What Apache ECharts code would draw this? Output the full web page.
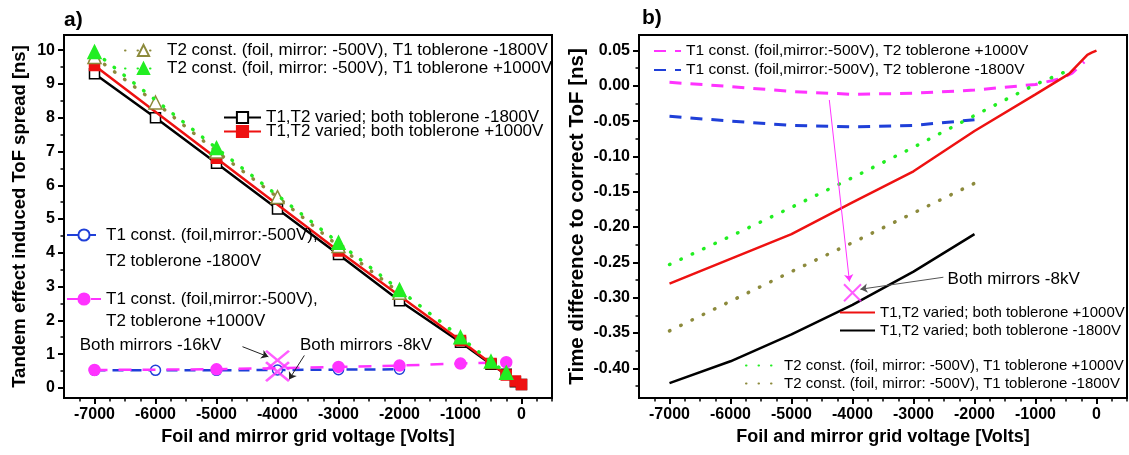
<!DOCTYPE html>
<html>
<head>
<meta charset="utf-8">
<script src="https://cdn.jsdelivr.net/npm/echarts@6/dist/echarts.min.js"></script>
<style>
  html, body { margin: 0; padding: 0; background: #fff; }
  #chart { width: 1129px; height: 455px; }
</style>
</head>
<body>
<div id="chart"></div>
<script>
// ---- tick values (both panels share the voltage axis) ----
var xTicks = [-7000, -6000, -5000, -4000, -3000, -2000, -1000, 0];
var xMinor = [-7250, -6750, -6500, -6250, -5750, -5500, -5250, -4750, -4500, -4250,
              -3750, -3500, -3250, -2750, -2500, -2250, -1750, -1500, -1250,
              -750, -500, -250, 250, 500];
var yTicksA = [0, 1, 2, 3, 4, 5, 6, 7, 8, 9, 10];
var yMinorA = [0.5, 1.5, 2.5, 3.5, 4.5, 5.5, 6.5, 7.5, 8.5, 9.5];
var yTicksB = [0.05, 0, -0.05, -0.1, -0.15, -0.2, -0.25, -0.3, -0.35, -0.4];
var yMinorB = [0.025, -0.025, -0.075, -0.125, -0.175, -0.225, -0.275, -0.325, -0.375, -0.425];

// ---- panel a) tandem effect induced ToF spread [ns] ----
var blackA = [[-7000, 9.3], [-6000, 8.0], [-5000, 6.65], [-4000, 5.3], [-3000, 3.95], [-2000, 2.58],
              [-1000, 1.35], [-500, 0.7], [-250, 0.4], [-100, 0.18], [0, 0.1]];
var redA = [[-7000, 9.55], [-5000, 6.8], [-3000, 4.05], [-1000, 1.4], [-500, 0.72],
            [-250, 0.38], [-100, 0.2], [0, 0.1]];
var oliveA = [[-7000, 9.8], [-6000, 8.45], [-5000, 7.0], [-4000, 5.65], [-3000, 4.2], [-2000, 2.82]];
var greenA = [[-7000, 9.95], [-5000, 7.1], [-3000, 4.3], [-2000, 2.9], [-1000, 1.5], [-500, 0.78], [-250, 0.45]];
var blueA = [[-7000, 0.52], [-6000, 0.52], [-5000, 0.52], [-4000, 0.53], [-3000, 0.54], [-2000, 0.55]];
var magentaA = [[-7000, 0.53], [-5000, 0.55], [-3000, 0.62], [-2000, 0.66], [-1000, 0.72], [-250, 0.76]];
var crossA = [[-4000, 0.82], [-4000, 0.48]];

// ---- panel b) time difference to correct ToF [ns] ----
var magentaB = [[-7000, 0.005], [-6000, -0.001], [-5000, -0.008], [-4000, -0.012], [-3000, -0.0105],
                [-2000, -0.006], [-1000, 0.002], [-600, 0.01], [-400, 0.018], [-200, 0.034]];
var blueB = [[-7000, -0.043], [-6000, -0.05], [-5000, -0.056], [-4000, -0.058], [-3000, -0.056], [-2000, -0.048]];
var redB = [[-7000, -0.28], [-6000, -0.245], [-5000, -0.21], [-4000, -0.165], [-3000, -0.121],
            [-2000, -0.064], [-1000, -0.012], [-450, 0.017], [-150, 0.044], [-80, 0.047], [0, 0.05]];
var blackB = [[-7000, -0.421], [-6000, -0.39], [-5000, -0.352], [-4000, -0.31], [-3000, -0.263], [-2000, -0.21]];
var greenB = [[-7000, -0.253], [-6000, -0.213], [-5000, -0.172], [-4000, -0.13], [-3000, -0.087],
              [-2000, -0.042], [-1000, 0.002], [-400, 0.024]];
var oliveB = [[-7000, -0.347], [-6000, -0.305], [-5000, -0.263], [-4000, -0.222], [-3000, -0.18], [-2000, -0.138]];
var crossB = [[-4000, -0.293]];

var FONT = 'Liberation Sans, Arial, sans-serif';
var MAGENTA = '#ff33ff', BLUE = '#1f3fd8', GREEN = '#22ee22', OLIVE = '#8c8a3c', RED = '#ee1111';
var CROSS = 'path://M0,0L10,10M10,0L0,10';
var DOTS = [0.5, 12];

var chart = echarts.init(document.getElementById('chart'), null, { renderer: 'canvas' });

function mainX(grid) {
    return {
        type: 'value', gridIndex: grid, position: 'bottom', min: -7500, max: 500,
        name: 'Foil and mirror grid voltage [Volts]', nameLocation: 'middle', nameGap: 29,
        nameTextStyle: { fontSize: 18, fontWeight: 'bold', color: '#000', fontFamily: FONT },
        axisLine: { show: true, onZero: false, lineStyle: { color: '#000', width: 2 } },
        axisTick: { show: true, length: 6, customValues: xTicks, lineStyle: { color: '#000', width: 2 } },
        axisLabel: { customValues: xTicks, margin: 9, fontSize: 16, fontWeight: 'bold', color: '#000', fontFamily: FONT,
                     formatter: function (v) { return String(v); } },
        splitLine: { show: false }
    };
}
function minorAxis(grid, pos, min, max, vals) {
    return {
        type: 'value', gridIndex: grid, position: pos, min: min, max: max,
        axisLine: { show: false, onZero: false },
        axisTick: { show: true, length: 3.5, customValues: vals, lineStyle: { color: '#000', width: 1.5 } },
        axisLabel: { show: false },
        splitLine: { show: false }
    };
}
function mainY(grid, min, max, ticks, title, gap, size, fmt) {
    return {
        type: 'value', gridIndex: grid, position: 'left', min: min, max: max,
        name: title, nameLocation: 'middle', nameGap: gap,
        nameTextStyle: { fontSize: size, fontWeight: 'bold', color: '#000', fontFamily: FONT },
        axisLine: { show: true, onZero: false, lineStyle: { color: '#000', width: 2 } },
        axisTick: { show: true, length: 6, customValues: ticks, lineStyle: { color: '#000', width: 2 } },
        axisLabel: { customValues: ticks, margin: 9, fontSize: 16, fontWeight: 'bold', color: '#000',
                     fontFamily: FONT, formatter: fmt },
        splitLine: { show: false }
    };
}

function line(name, xi, data, color, lw, dash, sym, symSize, fill, z) {
    return {
        name: name, type: 'line', xAxisIndex: xi, yAxisIndex: xi, data: data,
        symbol: sym || 'none', symbolSize: symSize || 0, showSymbol: !!sym,
        lineStyle: { color: color, width: lw, type: dash || 'solid', cap: dash === DOTS ? 'round' : 'butt' },
        itemStyle: { color: fill || color, borderColor: color, borderWidth: 1.5 },
        z: z || 2, silent: true, emphasis: { disabled: true }
    };
}

var tb = { fontFamily: FONT, color: '#000' };
var stripB = function (n) { return n.slice(2); };

var option = {
    animation: false,
    backgroundColor: '#fff',
    textStyle: { fontFamily: FONT },
    grid: [
        { left: 64, top: 35, width: 488, height: 363, show: true, borderColor: '#000', borderWidth: 2, backgroundColor: 'transparent' },
        { left: 639, top: 35, width: 488, height: 363, show: true, borderColor: '#000', borderWidth: 2, backgroundColor: 'transparent' }
    ],
    xAxis: [mainX(0), minorAxis(0, 'bottom', -7500, 500, xMinor), mainX(1), minorAxis(1, 'bottom', -7500, 500, xMinor)],
    yAxis: [
        mainY(0, -0.3, 10.45, yTicksA, 'Tandem effect induced ToF spread [ns]', 35, 18.5),
        minorAxis(0, 'left', -0.3, 10.45, yMinorA),
        mainY(1, -0.442, 0.072, yTicksB, 'Time difference to correct ToF [ns]', 51, 20.5, function (v) { return v.toFixed(2); }),
        minorAxis(1, 'left', -0.442, 0.072, yMinorB)
    ],
    legend: [
        { data: ['T2 const. (foil, mirror: -500V), T1 toblerone -1800V', 'T2 const. (foil, mirror: -500V), T1 toblerone +1000V'],
          left: 124, top: 42, padding: 0, orient: 'vertical', itemWidth: 37, itemHeight: 14, itemGap: 1, selectedMode: false,
          textStyle: Object.assign({ fontSize: 17 }, tb) },
        { data: ['T1,T2 varied; both toblerone -1800V', 'T1,T2 varied; both toblerone +1000V'],
          left: 223, top: 109, padding: 0, orient: 'vertical', itemWidth: 37, itemHeight: 14, itemGap: -3, selectedMode: false,
          textStyle: Object.assign({ fontSize: 17 }, tb) },
        { data: ['T1 const. (foil,mirror:-500V),\nT2 toblerone -1800V'],
          left: 66, top: 196, padding: 0, orient: 'vertical', itemWidth: 34, itemHeight: 14, selectedMode: false,
          formatter: function (n) { return ' \n' + n; },
          textStyle: Object.assign({ fontSize: 17, lineHeight: 26 }, tb) },
        { data: ['T1 const. (foil,mirror:-500V),\nT2 toblerone +1000V'],
          left: 66, top: 266, padding: 0, orient: 'vertical', itemWidth: 34, itemHeight: 14, selectedMode: false,
          formatter: function (n) { return ' \n' + n; },
          textStyle: Object.assign({ fontSize: 17, lineHeight: 22 }, tb) },
        { data: ['b:T1 const. (foil,mirror:-500V), T2 toblerone +1000V', 'b:T1 const. (foil,mirror:-500V), T2 toblerone -1800V'],
          left: 653, top: 43, padding: 0, orient: 'vertical', itemWidth: 27, itemHeight: 12, itemGap: 3, selectedMode: false,
          formatter: stripB, itemStyle: { opacity: 0 },
          textStyle: Object.assign({ fontSize: 15.5 }, tb) },
        { data: ['b:T1,T2 varied; both toblerone +1000V', 'b:T1,T2 varied; both toblerone -1800V'],
          left: 839, top: 305, padding: 0, orient: 'vertical', itemWidth: 35, itemHeight: 12, itemGap: 3, selectedMode: false,
          formatter: stripB, itemStyle: { opacity: 0 },
          textStyle: Object.assign({ fontSize: 15 }, tb) },
        { data: ['b:T2 const. (foil, mirror: -500V), T1 toblerone +1000V', 'b:T2 const. (foil, mirror: -500V), T1 toblerone -1800V'],
          left: 745, top: 358, padding: 0, orient: 'vertical', itemWidth: 33, itemHeight: 12, itemGap: 3, selectedMode: false,
          formatter: stripB, itemStyle: { opacity: 0 },
          textStyle: Object.assign({ fontSize: 15 }, tb) }
    ],
    graphic: [
        { type: 'text', left: 64, top: 10, style: { text: 'a)', font: 'bold 21px ' + FONT, fill: '#000' } },
        { type: 'text', left: 642, top: 8, style: { text: 'b)', font: 'bold 21px ' + FONT, fill: '#000' } }
    ],
    series: [
        // panel a
        line('T1,T2 varied; both toblerone -1800V', 0, blackA, '#000', 2.5, 'solid', 'rect', 10, '#fff', 2),
        line('T1,T2 varied; both toblerone +1000V', 0, redA, RED, 2.5, 'solid', 'rect', 10, RED, 3),
        line('T2 const. (foil, mirror: -500V), T1 toblerone -1800V', 0, oliveA, OLIVE, 3.5, DOTS, 'triangle', 13, '#fff', 4),
        line('T2 const. (foil, mirror: -500V), T1 toblerone +1000V', 0, greenA, GREEN, 3.5, DOTS, 'triangle', 13, GREEN, 5),
        line('T1 const. (foil,mirror:-500V),\nT2 toblerone -1800V', 0, blueA, BLUE, 2.5, [11, 7], 'circle', 10, '#fff', 2),
        line('T1 const. (foil,mirror:-500V),\nT2 toblerone +1000V', 0, magentaA, MAGENTA, 2.5, [13, 11], 'circle', 11, MAGENTA, 3),
        {
            name: 'Both mirrors a', type: 'scatter', xAxisIndex: 0, yAxisIndex: 0, data: crossA,
            symbol: CROSS, symbolSize: [23, 19], z: 6, silent: true,
            itemStyle: { color: 'rgba(0,0,0,0)', borderColor: MAGENTA, borderWidth: 2.5 },
            markLine: {
                silent: true, symbol: ['none', 'arrow'], symbolSize: 7, animation: false,
                lineStyle: { color: '#222', width: 1, type: 'solid' }, label: { show: false },
                data: [
                    [{ coord: [-4574, 1.22] }, { coord: [-4150, 0.92] }],
                    [{ coord: [-3560, 0.96] }, { coord: [-3810, 0.25] }]
                ]
            },
            markPoint: {
                silent: true, symbol: 'circle', symbolSize: 1, itemStyle: { color: 'rgba(0,0,0,0)' },
                label: { show: true, position: 'right', distance: 0, fontSize: 17, color: '#000', fontFamily: FONT,
                         formatter: function (p) { return p.name; } },
                data: [
                    { name: 'Both mirrors -16kV', coord: [-7250, 1.27] },
                    { name: 'Both mirrors -8kV', coord: [-3640, 1.27] }
                ]
            }
        },
        // panel b
        line('b:T1 const. (foil,mirror:-500V), T2 toblerone +1000V', 2, magentaB, MAGENTA, 3, [12, 9]),
        line('b:T1 const. (foil,mirror:-500V), T2 toblerone -1800V', 2, blueB, BLUE, 3, [12, 9]),
        line('b:T1,T2 varied; both toblerone +1000V', 2, redB, RED, 2.5, 'solid', null, 0, null, 3),
        line('b:T1,T2 varied; both toblerone -1800V', 2, blackB, '#000', 2.5, 'solid'),
        line('b:T2 const. (foil, mirror: -500V), T1 toblerone +1000V', 2, greenB, GREEN, 3.5, DOTS),
        line('b:T2 const. (foil, mirror: -500V), T1 toblerone -1800V', 2, oliveB, OLIVE, 3.5, DOTS),
        {
            name: 'Both mirrors b', type: 'scatter', xAxisIndex: 2, yAxisIndex: 2, data: crossB,
            symbol: CROSS, symbolSize: 17, z: 6, silent: true,
            itemStyle: { color: 'rgba(0,0,0,0)', borderColor: MAGENTA, borderWidth: 2 },
            markLine: {
                silent: true, symbol: ['none', 'arrow'], symbolSize: 7, animation: false,
                label: { show: false },
                data: [
                    [{ coord: [-4380, -0.02], lineStyle: { color: MAGENTA, width: 1, type: 'solid' } },
                     { coord: [-4050, -0.277] }],
                    [{ coord: [-2510, -0.271], lineStyle: { color: '#555', width: 1, type: 'solid' } },
                     { coord: [-3870, -0.288] }]
                ]
            },
            markPoint: {
                silent: true, symbol: 'circle', symbolSize: 1, itemStyle: { color: 'rgba(0,0,0,0)' },
                label: { show: true, position: 'right', distance: 0, fontSize: 17, color: '#000', fontFamily: FONT,
                         formatter: function (p) { return p.name; } },
                data: [{ name: 'Both mirrors -8kV', coord: [-2450, -0.274] }]
            }
        }
    ]
};

chart.setOption(option);
</script>
</body>
</html>
